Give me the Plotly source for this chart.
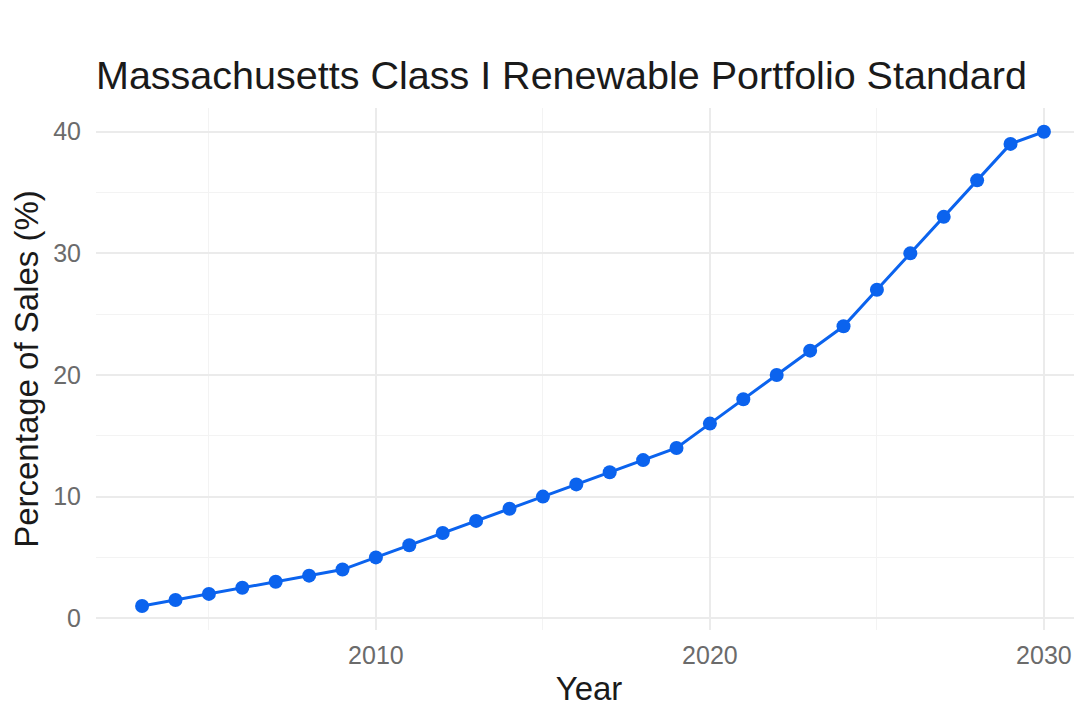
import plotly.graph_objects as go

years = [2003, 2004, 2005, 2006, 2007, 2008, 2009, 2010, 2011, 2012, 2013, 2014,
         2015, 2016, 2017, 2018, 2019, 2020, 2021, 2022, 2023, 2024, 2025, 2026,
         2027, 2028, 2029, 2030]
percent = [1, 1.5, 2, 2.5, 3, 3.5, 4, 5, 6, 7, 8, 9,
           10, 11, 12, 13, 14, 16, 18, 20, 22, 24, 27, 30,
           33, 36, 39, 40]

x_ticks = [2010, 2020, 2030]
y_ticks = [0, 10, 20, 30, 40]

title_text = "Massachusetts Class I Renewable Portfolio Standard"
x_title = "Year"
y_title = "Percentage of Sales (%)"

BLUE = "#0b63ee"
FONT = "Liberation Sans, Arial, sans-serif"

W, H = 1074, 699

fig = go.Figure()
fig.add_trace(go.Scatter(
    x=years, y=percent, mode="lines+markers",
    line=dict(color=BLUE, width=3),
    marker=dict(color=BLUE, size=14),
    showlegend=False,
    hovertemplate="Year: %{x}<br>Percentage: %{y}<extra></extra>",
))

fig.update_layout(
    width=W, height=H,
    autosize=False,
    paper_bgcolor="white",
    plot_bgcolor="white",
    margin=dict(l=88, r=0, t=100, b=77),
    font=dict(family=FONT, color="#1a1a1a"),
    title=dict(
        text=title_text,
        font=dict(family=FONT, size=39.5, color="#1a1a1a"),
        xref="paper", x=0, xanchor="left",
        yref="container", y=1 - 67 / H, yanchor="middle",
    ),
    xaxis=dict(
        range=[2001.62, 2031.14],
        tickvals=x_ticks,
        ticktext=[str(v) for v in x_ticks],
        tickfont=dict(family=FONT, size=25, color="#6b6b6b"),
        ticklabelstandoff=8,
        showgrid=True, gridcolor="#ebebeb", gridwidth=2,
        minor=dict(tickvals=[2005, 2015, 2025], showgrid=True,
                   gridcolor="#f3f3f3", gridwidth=1),
        zeroline=False, showline=False, ticks="",
        title=dict(text=x_title, font=dict(family=FONT, size=33, color="#1a1a1a"),
                   standoff=8),
    ),
    yaxis=dict(
        range=[-0.97, 41.95],
        tickvals=y_ticks,
        ticktext=[str(v) for v in y_ticks],
        tickfont=dict(family=FONT, size=25, color="#6b6b6b"),
        ticklabelstandoff=14,
        showgrid=True, gridcolor="#ebebeb", gridwidth=2,
        minor=dict(tickvals=[5, 15, 25, 35], showgrid=True,
                   gridcolor="#f3f3f3", gridwidth=1),
        zeroline=False, showline=False, ticks="",
        title=dict(text=y_title, font=dict(family=FONT, size=33, color="#1a1a1a"),
                   standoff=6),
    ),
)

fig.write_html("out.html")
